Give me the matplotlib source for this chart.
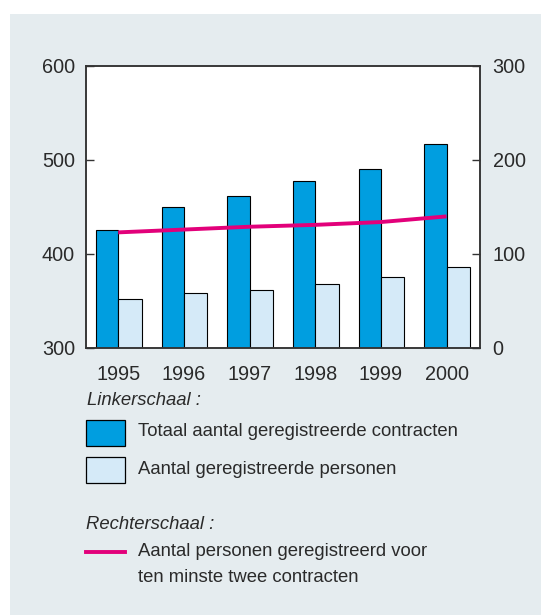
import numpy as np
import matplotlib
matplotlib.use('Agg')
import matplotlib.pyplot as plt
from matplotlib.patches import Rectangle
from matplotlib.lines import Line2D

# DATA
jaren = ['1995', '1996', '1997', '1998', '1999', '2000']
contracten = [425, 450, 462, 478, 490, 517]      # linkerschaal
personen = [352, 359, 362, 368, 375, 386]        # linkerschaal
twee_contracten = [123, 126, 129, 131, 134, 140]  # rechterschaal

donkerblauw = '#009ee0'
lichtblauw = '#d5eaf8'
roze = '#e2007a'
achtergrond = '#e5ecef'
tekst = '#2a2a2a'

plt.rcParams['font.family'] = ['Liberation Sans', 'DejaVu Sans']

W, H = 541, 615
fig = plt.figure(figsize=(W / 100, H / 100), dpi=100, facecolor='white')

# achtergrondvlak
fig.patches.append(Rectangle((10, 0), W - 10, H - 14, transform=None,
                             facecolor=achtergrond, edgecolor='none', zorder=-10))

ax = fig.add_axes([86 / W, 1 - 348 / H, (480 - 86) / W, (348 - 66) / H])
ax.set_facecolor('white')
x = np.arange(len(jaren))
ax.bar(x, contracten, width=-0.34, align='edge', color=donkerblauw,
       edgecolor='black', linewidth=0.8, zorder=2)
ax.bar(x, personen, width=0.36, align='edge', color=lichtblauw,
       edgecolor='black', linewidth=0.8, zorder=2)
ax.set_xlim(-0.49, 5.51)
ax.set_ylim(300, 600)
ax.set_yticks([300, 400, 500, 600])
ax.set_xticks(x)
ax.set_xticklabels(jaren)
ax.tick_params(axis='x', length=0, pad=12.5, labelsize=14.3, labelcolor=tekst)
ax.tick_params(axis='y', direction='in', length=6, width=1, pad=8,
               labelsize=14.3, labelcolor=tekst, color='#333333')

ax2 = ax.twinx()
ax2.plot(x, twee_contracten, color=roze, linewidth=2.8, solid_capstyle='butt', zorder=3)
ax2.set_ylim(0, 300)
ax2.set_yticks([0, 100, 200, 300])
ax2.tick_params(axis='y', direction='in', length=6, width=1, pad=9,
                labelsize=14.3, labelcolor=tekst, color='#333333')

for a in (ax, ax2):
    for s in a.spines.values():
        s.set_color('#333333')
        s.set_linewidth(1.1)

# legenda
def py(y):
    return H - y

fs = 13.3
fig.text(87 / W, py(405) / H, 'Linkerschaal :', fontsize=fs, style='italic',
         color=tekst, va='baseline')
fig.patches.append(Rectangle((86, py(446)), 39, 26, transform=None,
                             facecolor=donkerblauw, edgecolor='black', linewidth=0.9))
fig.text(138 / W, py(432) / H, 'Totaal aantal geregistreerde contracten',
         fontsize=fs, color=tekst, va='center')
fig.patches.append(Rectangle((86, py(483)), 39, 26, transform=None,
                             facecolor=lichtblauw, edgecolor='black', linewidth=0.9))
fig.text(138 / W, py(470) / H, 'Aantal geregistreerde personen',
         fontsize=fs, color=tekst, va='center')
fig.text(86 / W, py(529) / H, 'Rechterschaal :', fontsize=fs, style='italic',
         color=tekst, va='baseline')
fig.lines.append(Line2D([86, 125], [py(552), py(552)], transform=None,
                        color=roze, linewidth=2.8))
fig.text(138 / W, py(552) / H, 'Aantal personen geregistreerd voor',
         fontsize=fs, color=tekst, va='center')
fig.text(138 / W, py(577) / H, 'ten minste twee contracten',
         fontsize=fs, color=tekst, va='center')

fig.savefig('out.png', dpi=100, facecolor='white')
